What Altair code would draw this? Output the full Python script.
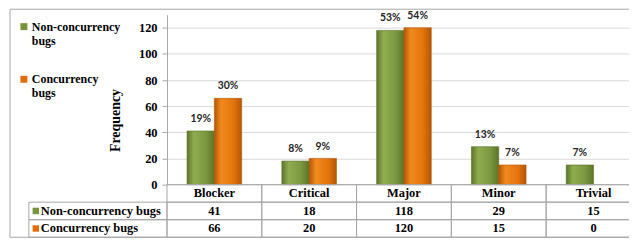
import altair as alt
import pandas as pd

categories = ["Blocker", "Critical", "Major", "Minor", "Trivial"]
series_names = ["Non-concurrency bugs", "Concurrency bugs"]
non_conc_values = [41, 18, 118, 29, 15]
conc_values = [66, 20, 120, 15, 0]
non_conc_pct = ["19%", "8%", "53%", "13%", "7%"]
conc_pct = ["30%", "9%", "54%", "7%", ""]
y_ticks = [0, 20, 40, 60, 80, 100, 120]
series_colors = ["#77933C", "#E46C0A"]

rows = []
for i, c in enumerate(categories):
    rows.append(dict(category=c, series=series_names[0], row=series_names[0],
                     value=non_conc_values[i], pct=non_conc_pct[i]))
    rows.append(dict(category=c, series=series_names[1], row=series_names[1],
                     value=conc_values[i], pct=conc_pct[i]))
df = pd.DataFrame(rows)
header_df = pd.DataFrame({"category": categories, "row": ["_header"] * len(categories)})
rowlab_df = pd.DataFrame({"series": series_names, "row": series_names})
row_domain = ["_header"] + series_names

SERIF = "'Liberation Serif', 'Times New Roman', serif"
FS = 12.5

x_enc = alt.X("category:N", sort=categories,
              scale=alt.Scale(domain=categories, range=[0, 477], paddingInner=0, paddingOuter=0),
              axis=None)
xoff_enc = alt.XOffset("series:N", sort=series_names,
                       scale=alt.Scale(domain=series_names, paddingInner=0, paddingOuter=0.735))
y_val = alt.Y("value:Q", scale=alt.Scale(domain=[0, 130], nice=False),
              axis=alt.Axis(orient="left", values=y_ticks, title="Frequency",
                            titleFont=SERIF, titleFontSize=14, titleFontWeight="bold",
                            titleColor="black", titleX=-45, titleY=106,
                            labelFont=SERIF, labelFontSize=FS, labelFontWeight="bold",
                            labelColor="black", labelPadding=5, tickSize=5,
                            tickColor="#a6a6a6", domainColor="#a6a6a6",
                            gridColor="#d9d9d9", grid=True))
y_row = alt.Y("row:N", scale=alt.Scale(domain=row_domain, range=[171, 224],
                                       paddingInner=0, paddingOuter=0), axis=None)


def grad(c_edge, c_light, c_mid):
    return alt.Gradient(gradient="linear", x1=0, x2=1, y1=0, y2=0,
                        stops=[alt.GradientStop(color=c_edge, offset=0),
                               alt.GradientStop(color=c_light, offset=0.25),
                               alt.GradientStop(color=c_mid, offset=0.7),
                               alt.GradientStop(color=c_edge, offset=1)])


base = alt.Chart(df).transform_filter(alt.datum.value > 0)
green_bars = base.transform_filter(alt.datum.series == series_names[0]).mark_bar(
    color=grad("#5c7529", "#8fad50", "#7b9740"), stroke="#5a7028", strokeWidth=0.6
).encode(x=x_enc, xOffset=xoff_enc, y=y_val)
orange_bars = base.transform_filter(alt.datum.series == series_names[1]).mark_bar(
    color=grad("#b55607", "#f28a1e", "#e2740c"), stroke="#b05407", strokeWidth=0.6
).encode(x=x_enc, xOffset=xoff_enc, y=y_val)
pct_labels = alt.Chart(df).mark_text(
    dy=-12, font="Lato", fontWeight="bold", fontSize=10.5, color="#262626"
).encode(x=x_enc, xOffset=xoff_enc, y=y_val, text="pct:N")

bar_group = alt.layer(green_bars, orange_bars, pct_labels)

frame = alt.Chart(pd.DataFrame({"k": [0]})).mark_rect(
    filled=False, stroke="#a6a6a6", strokeWidth=1
).encode(x=alt.value(-158), x2=alt.value(490), y=alt.value(-5.5), y2=alt.value(224))

cells_all = pd.concat([header_df, df[["category", "row"]]], ignore_index=True)
cells = alt.Chart(cells_all).mark_rect(filled=False, stroke="#a6a6a6", strokeWidth=1).encode(
    x=x_enc, y=y_row)
left_cells = alt.Chart(rowlab_df).mark_rect(filled=False, stroke="#a6a6a6", strokeWidth=1).encode(
    x=alt.value(-139), x2=alt.value(0), y=y_row)
header_text = alt.Chart(header_df).mark_text(
    font=SERIF, fontSize=FS, fontWeight="bold", color="black"
).encode(x=x_enc, y=y_row, text="category:N")
value_text = alt.Chart(df).mark_text(
    font=SERIF, fontSize=FS, fontWeight="bold", color="black"
).encode(x=x_enc, y=y_row, text="value:Q")
row_text = alt.Chart(rowlab_df).mark_text(
    font=SERIF, fontSize=FS, fontWeight="bold", color="black", align="left"
).encode(x=alt.value(-127), y=y_row, text="series:N")
squares = alt.Chart(rowlab_df).mark_square(size=42, opacity=1).encode(
    x=alt.value(-132), y=y_row,
    color=alt.Color("series:N", sort=series_names,
                    scale=alt.Scale(domain=series_names, range=series_colors),
                    legend=alt.Legend(orient="none", legendX=-150, legendY=6, title=None,
                                      symbolType="square", symbolSize=49, symbolStrokeWidth=0,
                                      labelExpr="split(datum.label, ' ')",
                                      labelFont=SERIF, labelFontSize=12, labelFontWeight="bold",
                                      labelColor="black", labelOffset=2, rowPadding=27,
                                      labelLimit=200, labelBaseline="middle"))
)
table_group = alt.layer(frame, cells, left_cells, header_text, value_text, row_text, squares)

chart = alt.layer(bar_group, table_group).resolve_scale(y="independent").properties(
    width=465, height=171, autosize="none",
    padding={"left": 160, "top": 6, "right": 0, "bottom": 53},
    background="white",
).configure_view(stroke=None)

chart.save("out.html", embed_options={"renderer": "svg", "actions": False})
